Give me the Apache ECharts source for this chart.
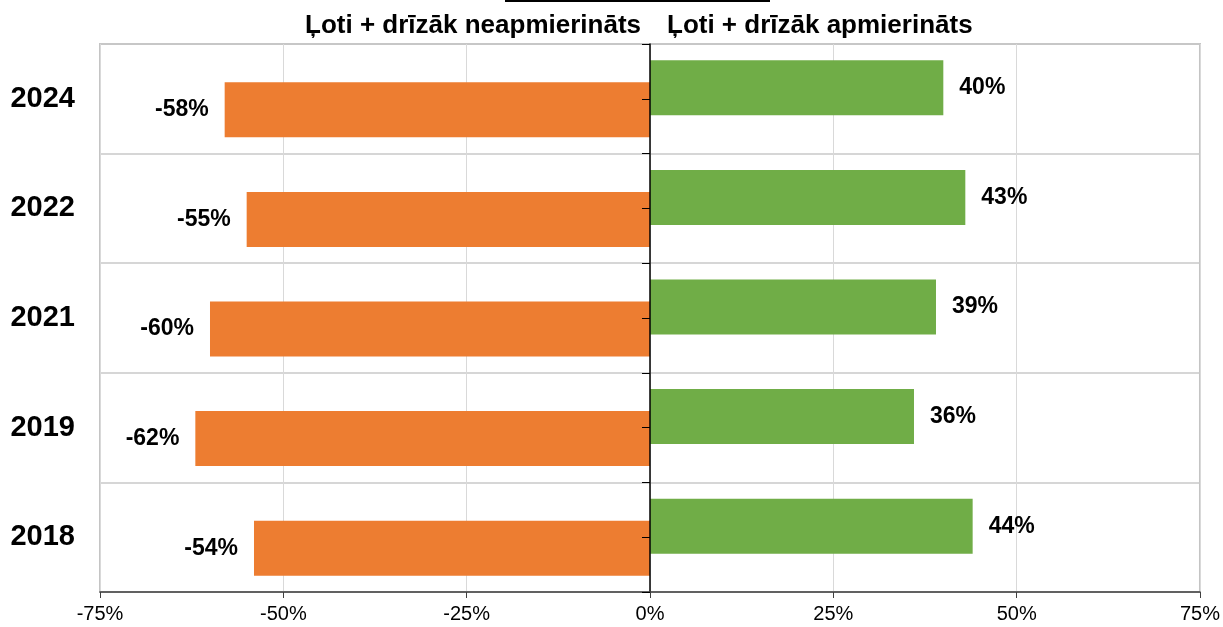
<!DOCTYPE html>
<html style="height: 100%">
    <head>
        <meta charset="utf-8">
    </head>
    <body style="height: 100%; margin: 0; background: #fff">
        <div id="container" style="width: 1223px; height: 627px"></div>
        <script src="https://cdn.jsdelivr.net/npm/echarts@6/dist/echarts.min.js"></script>
    </body>
</html>
<script>
    var years = ['2018', '2019', '2021', '2022', '2024'];
    var apmierinats = [44, 36, 39, 43, 40];
    var neapmierinats = [-54, -62, -60, -55, -58];
    var xTicks = [-75, -50, -25, 0, 25, 50, 75];
    var halfBands = ['', '', '', '', '', '', '', '', '', ''];

    var dom = document.getElementById("container");
    var myChart = echarts.init(dom);
    var font = 'Arial, "Liberation Sans", sans-serif';
    var xMin = xTicks[0], xMax = xTicks[xTicks.length - 1];

    var option = {
      animation: false,
      textStyle: { fontFamily: font },
      graphic: [
        { type: 'rect', left: 505, top: 0, shape: { width: 265, height: 2 }, style: { fill: '#000' } },
        { type: 'text', style: { text: 'Ļoti + drīzāk neapmierināts', x: 641, y: 26, align: 'right', verticalAlign: 'middle',
            font: 'bold 26px ' + font, fill: '#000' } },
        { type: 'text', style: { text: 'Ļoti + drīzāk apmierināts', x: 667, y: 26, align: 'left', verticalAlign: 'middle',
            font: 'bold 26px ' + font, fill: '#000' } }
      ],
      grid: {
        left: 100, right: 23, top: 44, bottom: 35,
        show: true, borderColor: '#c4c4c4', borderWidth: 2
      },
      xAxis: [
        {
          type: 'value',
          position: 'bottom',
          min: xMin, max: xMax, interval: 25,
          axisLine: { show: false, onZero: false },
          axisTick: { show: false },
          axisLabel: { formatter: '{value}%', fontSize: 20, color: '#000', margin: 12 },
          splitLine: { lineStyle: { color: '#d9d9d9', width: 1 } }
        },
        {
          type: 'value',
          position: 'bottom',
          z: 6,
          min: xMin, max: xMax, interval: 25,
          axisLine: { show: true, onZero: false, lineStyle: { color: '#404040', width: 1.5 } },
          axisTick: { show: true, length: 6, lineStyle: { color: '#404040' } },
          axisLabel: { show: false },
          splitLine: { show: false }
        }
      ],
      yAxis: [
        {
          type: 'category',
          data: years,
          position: 'left',
          axisLine: { show: false, onZero: false },
          axisTick: { show: false },
          axisLabel: { fontSize: 29, fontWeight: 'bold', color: '#000', margin: 25 },
          splitLine: { show: true, lineStyle: { color: '#c8c8c8', width: 1.5 } }
        },
        {
          type: 'category',
          data: halfBands,
          position: 'right',
          z: 6,
          axisLine: { show: true, onZero: true, onZeroAxisIndex: 0, lineStyle: { color: '#000', width: 1.5 } },
          axisTick: { show: true, inside: true, length: 8, interval: 0, lineStyle: { color: '#000' } },
          axisLabel: { show: false },
          splitLine: { show: false }
        }
      ],
      series: [
        {
          name: 'apmierināts',
          type: 'bar',
          xAxisIndex: 0,
          yAxisIndex: 0,
          data: apmierinats,
          barWidth: 55,
          barGap: '-60%',
          itemStyle: { color: '#70AD47' },
          label: { show: true, position: 'right', distance: 16, formatter: '{c}%',
                   fontSize: 23, fontWeight: 'bold', color: '#000' }
        },
        {
          name: 'neapmierināts',
          type: 'bar',
          xAxisIndex: 0,
          yAxisIndex: 0,
          data: neapmierinats,
          barWidth: 55,
          barGap: '-60%',
          itemStyle: { color: '#ED7D31' },
          label: { show: true, position: 'left', distance: 16, formatter: '{c}%',
                   fontSize: 23, fontWeight: 'bold', color: '#000' }
        }
      ]
    };

    myChart.setOption(option);
</script>
